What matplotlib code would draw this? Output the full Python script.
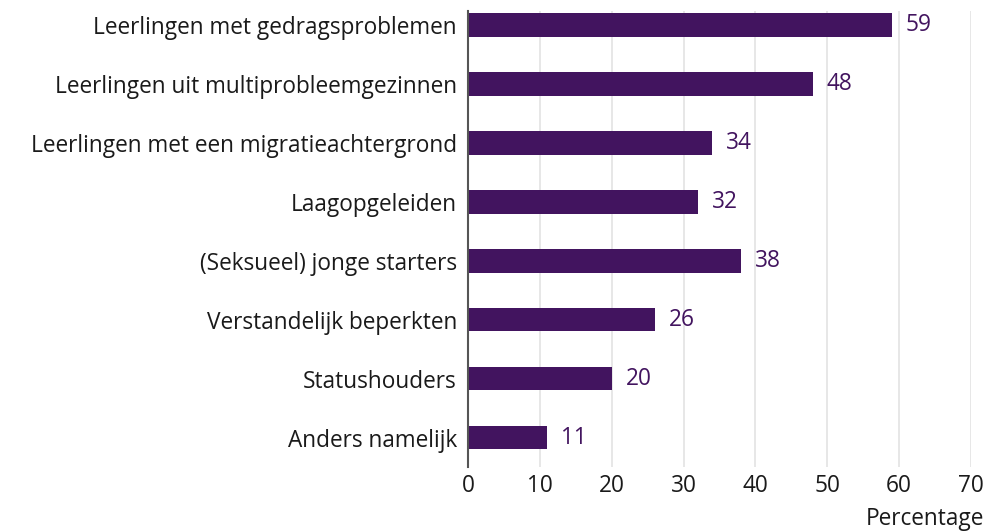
import matplotlib
matplotlib.use("Agg")
import matplotlib.pyplot as plt

categories = [
    "Leerlingen met gedragsproblemen",
    "Leerlingen uit multiprobleemgezinnen",
    "Leerlingen met een migratieachtergrond",
    "Laagopgeleiden",
    "(Seksueel) jonge starters",
    "Verstandelijk beperkten",
    "Statushouders",
    "Anders namelijk",
]
values = [59, 48, 34, 32, 38, 26, 20, 11]
xticks = [0, 10, 20, 30, 40, 50, 60, 70]
xlabel = "Percentage"

plt.rcParams['font.family'] = ['Open Sans', 'DejaVu Sans']
bar_color = "#42145f"
fs = 16.3

fig = plt.figure(figsize=(9.95, 5.31), dpi=100)
ax = fig.add_axes([468/995, 1 - 467/531, (971 - 468)/995, (467 - 11)/531])

ypos = list(range(len(categories)))
ax.barh(ypos, values, height=0.4, color=bar_color, zorder=3)
ax.set_ylim(len(categories) - 0.5, -0.24)
ax.set_xlim(0, 70)
ax.set_yticks(ypos)
ax.set_yticklabels(categories, fontsize=fs, color="#1a1a1a")
ax.set_xticks(xticks)
ax.set_xticklabels([str(t) for t in xticks], fontsize=fs, color="#1a1a1a")
ax.tick_params(axis='both', length=0)
ax.tick_params(axis='y', pad=8)
ax.tick_params(axis='x', pad=5)
ax.xaxis.grid(True, color="#e3e3e3", linewidth=1.2, zorder=0)
ax.set_axisbelow(True)
for s in ["top", "right", "bottom"]:
    ax.spines[s].set_visible(False)
ax.spines["left"].set_color("#555555")
ax.spines["left"].set_linewidth(1.5)
ax.spines["left"].set_zorder(4)

for y, v in zip(ypos, values):
    ax.annotate(str(v), xy=(v, y), xytext=(10, 0), textcoords="offset points",
                ha="left", va="center", fontsize=fs, color=bar_color)

fig.text(984/995, 1 - 519/531, xlabel, ha="right", va="center", fontsize=fs, color="#1a1a1a")

fig.savefig("out.png", dpi=100)
